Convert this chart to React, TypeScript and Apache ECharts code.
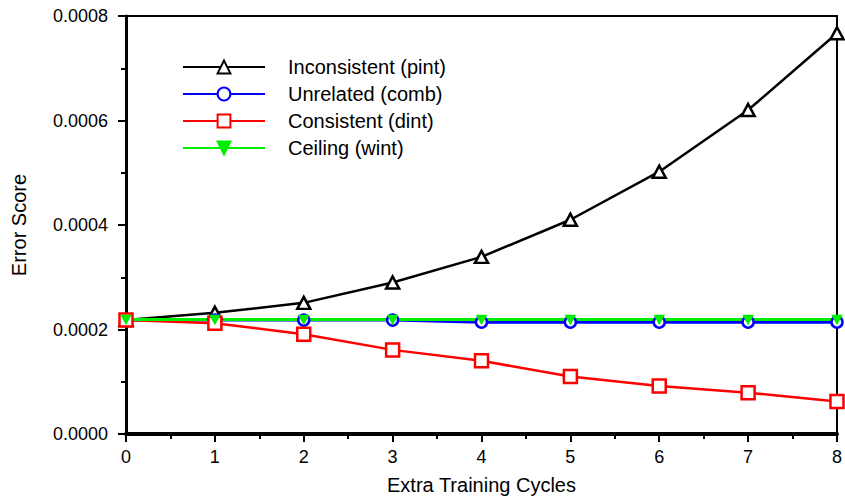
import React, { useEffect, useRef } from "react";
import * as echarts from "echarts";

// Training cycles along the x axis
const cycles = [0, 1, 2, 3, 4, 5, 6, 7, 8];

// Error scores per condition
const inconsistent = [0.000218, 0.000232, 0.000251, 0.00029, 0.000339, 0.00041, 0.000502, 0.00062, 0.000767];
const unrelated = [0.000218, 0.000218, 0.000218, 0.000218, 0.000214, 0.000214, 0.000214, 0.000214, 0.000214];
const consistent = [0.000218, 0.000212, 0.000191, 0.000161, 0.00014, 0.00011, 0.000092, 0.000079, 0.000062];
const ceiling = [0.000219, 0.000219, 0.000219, 0.000219, 0.000219, 0.000219, 0.000219, 0.000219, 0.000219];

const seriesNames = ["Inconsistent (pint)", "Unrelated (comb)", "Consistent (dint)", "Ceiling (wint)"];

const FONT = "Liberation Sans, Arial, sans-serif";

const pairs = (ys: number[]) => cycles.map((x, i) => [x, ys[i]]);

export default function App() {
  const ref = useRef<HTMLDivElement>(null);

  useEffect(() => {
    if (!ref.current) return;
    const chart = echarts.init(ref.current, undefined, { renderer: "svg" });

    const downTri = "path://M0,0 L10,0 L5,9 Z";

    chart.setOption({
      animation: false,
      backgroundColor: "#ffffff",
      textStyle: { fontFamily: FONT, color: "#000" },
      grid: {
        left: 126,
        right: 7,
        top: 16,
        bottom: 66,
        show: true,
        borderColor: "#000",
        borderWidth: 2,
        backgroundColor: "transparent",
      },
      legend: {
        orient: "vertical",
        left: 177,
        top: 52,
        itemWidth: 82,
        itemHeight: 16,
        itemGap: 7,
        data: seriesNames,
        textStyle: {
          fontFamily: FONT,
          fontSize: 20,
          color: "#000",
          padding: [0, 0, 0, 18],
        },
      },
      xAxis: {
        type: "value",
        min: 0,
        max: 8,
        interval: 1,
        name: "Extra Training Cycles",
        nameLocation: "middle",
        nameGap: 41,
        nameTextStyle: { fontFamily: FONT, fontSize: 20, color: "#000" },
        axisLine: { show: true, lineStyle: { color: "#000", width: 4 } },
        axisTick: { show: true, inside: false, length: 8, lineStyle: { color: "#000", width: 2 } },
        minorTick: { show: true, splitNumber: 2, length: 5, lineStyle: { color: "#000", width: 2 } },
        splitLine: { show: false },
        axisLabel: { fontFamily: FONT, fontSize: 18, color: "#000", margin: 14 },
      },
      yAxis: {
        type: "value",
        min: 0,
        max: 0.0008,
        interval: 0.0002,
        name: "Error Score",
        nameLocation: "middle",
        nameGap: 97,
        nameRotate: 90,
        nameTextStyle: { fontFamily: FONT, fontSize: 20, color: "#000" },
        axisLine: { show: true, lineStyle: { color: "#000", width: 3 } },
        axisTick: { show: true, inside: false, length: 8, lineStyle: { color: "#000", width: 2 } },
        minorTick: { show: true, splitNumber: 2, length: 5, lineStyle: { color: "#000", width: 2 } },
        splitLine: { show: false },
        axisLabel: {
          fontFamily: FONT,
          fontSize: 18,
          color: "#000",
          margin: 18,
          formatter: (v: number) => v.toFixed(4),
        },
      },
      series: [
        {
          name: seriesNames[0],
          type: "line",
          data: pairs(inconsistent),
          clip: false,
          symbol: "triangle",
          symbolSize: [13, 12],
          showAllSymbol: true,
          lineStyle: { color: "#000", width: 2.5 },
          itemStyle: { color: "#fff", borderColor: "#000", borderWidth: 2.5 },
        },
        {
          name: seriesNames[1],
          type: "line",
          data: pairs(unrelated),
          clip: false,
          symbol: "circle",
          symbolSize: 11,
          lineStyle: { color: "#0000ff", width: 3 },
          itemStyle: { color: "#fff", borderColor: "#0000ff", borderWidth: 2.5 },
        },
        {
          name: seriesNames[2],
          type: "line",
          data: pairs(consistent),
          clip: false,
          symbol: "rect",
          symbolSize: 13,
          lineStyle: { color: "#ff0000", width: 2.5 },
          itemStyle: { color: "#fff", borderColor: "#ff0000", borderWidth: 2.5 },
        },
        {
          name: seriesNames[3],
          type: "line",
          data: pairs(ceiling),
          clip: false,
          symbol: downTri,
          symbolSize: [9, 8],
          lineStyle: { color: "#00ee00", width: 3 },
          itemStyle: { color: "#00ee00", borderColor: "#00ee00", borderWidth: 1.5 },
        },
      ],
    });

    return () => chart.dispose();
  }, []);

  return <div ref={ref} style={{ width: 845, height: 500, position: "absolute", left: 0, top: 0 }} />;
}
